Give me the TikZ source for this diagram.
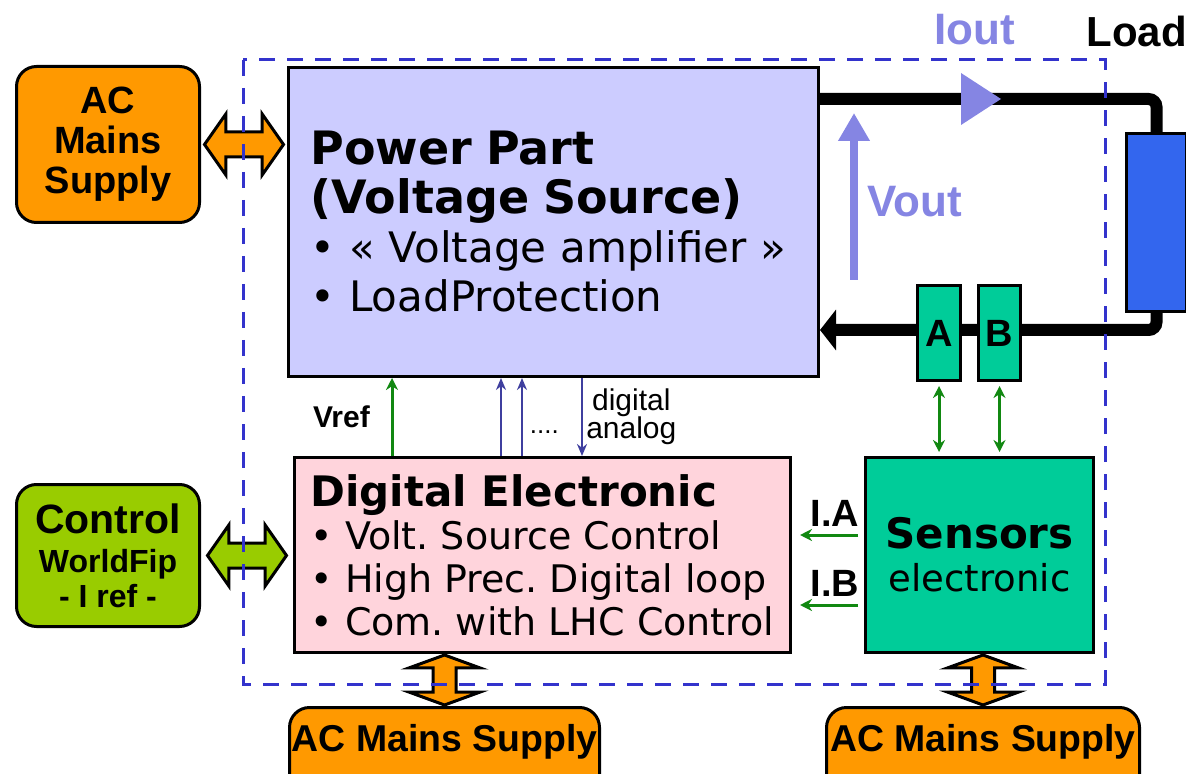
\documentclass[tikz,border=0pt]{standalone}
\usepackage{fontspec}
\setmainfont{DejaVu Sans}
\newfontfamily\arialfont{Liberation Sans}
\usetikzlibrary{arrows.meta,positioning,shapes.arrows,calc}
\definecolor{powerc}{HTML}{CCCCFF}
\definecolor{digitc}{HTML}{FFD4DC}
\definecolor{sensc}{HTML}{00CC99}
\definecolor{mainsc}{HTML}{FF9900}
\definecolor{ctrlc}{HTML}{99CC00}
\definecolor{loadc}{HTML}{3366EE}
\definecolor{ioutc}{HTML}{8585E3}
\definecolor{framec}{HTML}{3333CC}
\definecolor{busc}{HTML}{3F3F9F}
\definecolor{sigc}{HTML}{118811}
\frenchspacing

\begin{document}
\begin{tikzpicture}[
  x=0.5pt, y=-0.5pt, >=Stealth,
  blk/.style={draw=black, line width=1.5pt, anchor=north west, inner sep=0pt},
  part/.style={blk, align=left, inner xsep=11pt, font=\fontsize{21}{24.5}\selectfont},
  supply/.style={blk, fill=mainsc, rounded corners=10pt, align=center, font=\arialfont\bfseries\fontsize{19}{20}\selectfont},
  duplex/.style={double arrow, draw=black, line width=1.5pt, inner xsep=0pt, inner ysep=5.5pt,
    double arrow head extend=9pt, double arrow tip angle=110, minimum height=39.5pt, minimum width=0pt},
  riser/.style={duplex, fill=mainsc, rotate=90, inner ysep=5pt, double arrow head extend=12pt,
    double arrow tip angle=140, minimum height=25pt},
  wire/.style={line width=6pt, rounded corners=4pt},
  sig/.style={sigc, line width=1.5pt, -{Stealth[length=6pt,width=6pt]}},
  bus/.style={busc, line width=1.25pt, -{Stealth[length=6pt,width=5pt]}},
  lbl/.style={font=\arialfont\bfseries\fontsize{15}{15}\selectfont}]
  \useasboundingbox (0,0) rectangle (1186,774);
  \clip (0,0) rectangle (1186,774);

  % blocks
  \node[part, fill=powerc, minimum width=265pt, minimum height=154.5pt, text width=243pt] (power) at (287,66)
    {{\bfseries\fontsize{23}{25.5}\selectfont Power Part\\(Voltage Source)}\\• « Voltage amplifier »\\• LoadProtection};
  \node[part, fill=digitc, inner xsep=0pt, minimum width=248pt, minimum height=97.5pt,
    font=\fontsize{19}{21.5}\selectfont] (digital) at (293,456)
    {{\bfseries\fontsize{21}{21.5}\selectfont Digital Electronic}\\• Volt. Source Control\\• High Prec. Digital loop\\• Com. with LHC Control};
  \node[blk, fill=sensc, align=center, minimum width=114pt, minimum height=97.5pt,
    font=\fontsize{18.5}{21.5}\selectfont] (sensors) at (864,456)
    {{\bfseries\fontsize{21}{21.5}\selectfont Sensors}\\electronic};
  \node[supply, minimum width=91.5pt, minimum height=78pt] (mainstop) at (15,65) {AC\\Mains\\Supply};
  \node[supply, fill=ctrlc, minimum width=91.5pt, minimum height=71pt,
    font=\arialfont\bfseries\fontsize{16}{17.5}\selectfont] (control) at (15,483)
    {{\fontsize{20.5}{20}\selectfont Control}\\[2pt]WorldFip\\- I ref -};
  \node[supply, minimum width=155pt, minimum height=50pt, text height=14pt, text depth=20pt,
    font=\arialfont\bfseries\fontsize{18.7}{20}\selectfont] (mainsdig) at (288,706) {AC Mains Supply};
  \node[supply, minimum width=156.5pt, minimum height=50pt, text height=14pt, text depth=20pt,
    font=\arialfont\bfseries\fontsize{18.7}{20}\selectfont] (mainssen) at (825,706) {AC Mains Supply};
  \node[blk, fill=loadc, minimum width=30pt, minimum height=89pt] (load) at (1125,132) {};

  % output loop
  \draw[wire] ($(power.north east)+(0,33)$) -| (load.north);
  \draw[wire, -{Triangle[length=8pt,width=20pt]}] (load.south) |- ($(power.south east)+(0,-48)$);
  \node[blk, fill=sensc, minimum width=21.5pt, minimum height=47.5pt,
    font=\arialfont\bfseries\fontsize{19}{19}\selectfont] (senseA) at (916,284) {A};
  \node[blk, fill=sensc, minimum width=21pt, minimum height=47.5pt,
    font=\arialfont\bfseries\fontsize{19}{19}\selectfont] (senseB) at (977,284) {B};
  \fill[ioutc] (961,73) -- (1001,99) -- (961,125) -- cycle;
  \coordinate (voutfoot) at (854,280);
  \coordinate (vouttip) at (854,113);
  \draw[ioutc, line width=4pt, -{Triangle[length=14pt,width=15pt]}] (voutfoot) -- (vouttip);
  \node[anchor=base, text=ioutc, font=\arialfont\bfseries\fontsize{22}{22}\selectfont] (ioutlbl) at (975,45) {Iout};
  \node[anchor=base west, inner sep=0pt, font=\arialfont\bfseries\fontsize{21}{21}\selectfont] (loadlbl) at (1086,47) {Load};
  \node[anchor=base west, inner sep=0pt, text=ioutc, font=\arialfont\bfseries\fontsize{22}{22}\selectfont] (voutlbl) at (867,217) {Vout};

  % supplies and control links
  \node[duplex, fill=mainsc] (mainslink) at ($(mainstop.east)!0.5!(mainstop.east -| power.west)$) {};
  \node[duplex, fill=ctrlc] (ctrllink) at ($(control.east)!0.5!(control.east -| digital.west)$) {};
  \node[riser] (diglink) at ($(mainsdig.north)!0.5!(mainsdig.north |- digital.south)$) {};
  \node[riser] (senlink) at ($(mainssen.north)!0.5!(mainssen.north |- sensors.south)$) {};

  % signals
  \draw[sig] ([shift={(99,0)}]digital.north west) -- ([shift={(105,0)}]power.south west)
    node[midway, left=7pt, lbl, text=black]{Vref};
  \draw[bus] ([shift={(208,0)}]digital.north west) -- ([shift={(214,0)}]power.south west);
  \draw[bus] ([shift={(229,0)}]digital.north west) -- ([shift={(235,0)}]power.south west)
    node[pos=0.3, right=0pt, text=black, font=\arialfont\fontsize{13}{13}\selectfont]{....};
  \draw[bus] ([shift={(295,0)}]power.south west) -- ([shift={(289,0)}]digital.north west)
    node[midway, right, inner sep=1.5pt, align=center, text=black, font=\arialfont\fontsize{15}{14}\selectfont]{digital\\analog};
  \draw[sig] ([shift={(-6,-20)}]sensors.west) coordinate (iasrc) -- ($(iasrc -| digital.east)+(8,0)$)
    node[pos=0.4, above, text=black, font=\arialfont\bfseries\fontsize{19}{19}\selectfont]{I.A};
  \draw[sig] ([shift={(-6,50)}]sensors.west) coordinate (ibsrc) -- ($(ibsrc -| digital.east)+(8,0)$)
    node[pos=0.4, above, text=black, font=\arialfont\bfseries\fontsize{19}{19}\selectfont]{I.B};
  \draw[sig, {Stealth[length=6pt,width=6pt]}-{Stealth[length=6pt,width=6pt]}, shorten <=2pt, shorten >=2pt]
    (senseA.south) -- (senseA.south |- sensors.north);
  \draw[sig, {Stealth[length=6pt,width=6pt]}-{Stealth[length=6pt,width=6pt]}, shorten <=2pt, shorten >=2pt]
    (senseB.south) -- (senseB.south |- sensors.north);

  % enclosure
  \draw[framec, line width=1.5pt, dash pattern=on 8pt off 6pt] (243,60) rectangle (1105,684);
\end{tikzpicture}
\end{document}
